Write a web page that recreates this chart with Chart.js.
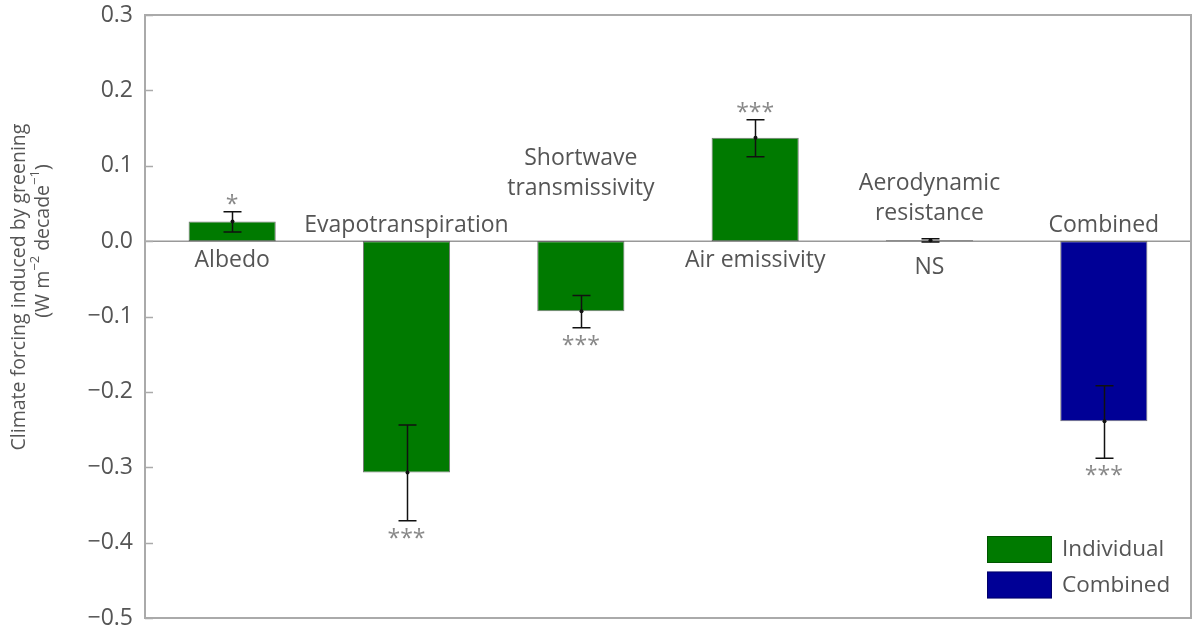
<!DOCTYPE html>
<html><head><meta charset="utf-8">
<script src="https://cdn.jsdelivr.net/npm/chart.js@4/dist/chart.umd.min.js"></script>
<style>html,body{margin:0;padding:0;background:#fff}#wrap{width:1192px;height:642px}</style>
</head><body><div id="wrap"><canvas id="c" width="1192" height="642"></canvas></div>
<script>
// ---- data ----
const categories = ['Albedo', 'Evapotranspiration', ['Shortwave', 'transmissivity'], 'Air emissivity', ['Aerodynamic', 'resistance'], 'Combined'];
const individualValues = [0.026, -0.307, -0.093, 0.137, 0.001, null];
const combinedValues = [null, null, null, null, null, -0.239];
const errLow = [0.012, -0.371, -0.115, 0.112, -0.001, -0.288];
const errHigh = [0.039, -0.244, -0.072, 0.161, 0.003, -0.192];
const significance = ['*', '***', '***', '***', 'NS', '***'];
const yTicks = [-0.5, -0.4, -0.3, -0.2, -0.1, 0.0, 0.1, 0.2, 0.3];
const seriesNames = ['Individual', 'Combined'];
const yTitleLine1 = 'Climate forcing induced by greening';

// ---- style ----
const FONT = '"Open Sans", "Noto Sans", sans-serif';
const TEXT = '#555555';
const GREEN = '#007a00';
const BLUE = '#000096';
const FRAME = '#aaaaaa';
const labelExtraLift = [0, 0, 37, 0, 12, 0];

const annot = {
  id: 'annot',
  beforeDatasetsDraw(chart) {
    const ctx = chart.ctx, a = chart.chartArea, y = chart.scales.y;
    const y0 = y.getPixelForValue(0);
    ctx.save();
    ctx.strokeStyle = '#999999';
    ctx.lineWidth = 1.5;
    ctx.beginPath(); ctx.moveTo(a.left, y0); ctx.lineTo(a.right, y0); ctx.stroke();
    ctx.restore();
  },
  afterDatasetsDraw(chart) {
    const ctx = chart.ctx, a = chart.chartArea, x = chart.scales.x, y = chart.scales.y;
    const y0 = y.getPixelForValue(0);
    ctx.save();
    // frame
    ctx.strokeStyle = FRAME; ctx.lineWidth = 2;
    ctx.strokeRect(a.left, a.top, a.right - a.left, a.bottom - a.top);
    // inward ticks
    ctx.lineWidth = 1.5;
    yTicks.forEach(v => {
      const py = Math.round(y.getPixelForValue(v)) + 0.5;
      ctx.beginPath(); ctx.moveTo(a.left, py); ctx.lineTo(a.left + 8, py); ctx.stroke();
    });
    // error bars
    ctx.strokeStyle = '#111111'; ctx.lineWidth = 1.5;
    categories.forEach((c, i) => {
      const cx = Math.round(x.getPixelForValue(i)) + 0.5;
      const lo = y.getPixelForValue(errLow[i]), hi = y.getPixelForValue(errHigh[i]);
      ctx.beginPath();
      ctx.moveTo(cx, lo); ctx.lineTo(cx, hi);
      ctx.moveTo(cx - 9, lo); ctx.lineTo(cx + 9, lo);
      ctx.moveTo(cx - 9, hi); ctx.lineTo(cx + 9, hi);
      ctx.stroke();
      const v = individualValues[i] != null ? individualValues[i] : combinedValues[i];
      ctx.fillStyle = '#111';
      ctx.beginPath(); ctx.arc(cx, y.getPixelForValue(v), 2, 0, Math.PI * 2); ctx.fill();
    });
    // category labels
    ctx.font = '23px ' + FONT;
    ctx.fillStyle = TEXT;
    ctx.textAlign = 'center'; ctx.textBaseline = 'middle';
    categories.forEach((c, i) => {
      const lines = Array.isArray(c) ? c : [c];
      const cx = x.getPixelForValue(i);
      const v = individualValues[i] != null ? individualValues[i] : combinedValues[i];
      if (v >= 0.01) {
        lines.forEach((l, k) => ctx.fillText(l, cx, y0 + 19 + k * 30));
      } else {
        const n = lines.length;
        lines.forEach((l, k) => ctx.fillText(l, cx, y0 - 16 - labelExtraLift[i] - (n - 1 - k) * 30));
      }
    });
    // significance
    categories.forEach((c, i) => {
      const cx = x.getPixelForValue(i);
      const v = individualValues[i] != null ? individualValues[i] : combinedValues[i];
      const s = significance[i];
      if (s === 'NS') {
        ctx.fillStyle = TEXT; ctx.font = '23px ' + FONT; ctx.textBaseline = 'middle';
        ctx.fillText(s, cx, y0 + 26);
        return;
      }
      ctx.fillStyle = '#888888'; ctx.font = '23px ' + FONT;
      ctx.textBaseline = 'alphabetic';
      if (v >= 0) {
        ctx.fillText(s, cx, y.getPixelForValue(errHigh[i]) + 0);
      } else {
        ctx.fillText(s, cx, y.getPixelForValue(errLow[i]) + 25);
      }
      ctx.textBaseline = 'middle';
    });
    // legend
    const ds = chart.data.datasets;
    ds.forEach((d, k) => {
      const bx = a.right - 204, by = a.bottom - 82 + k * 35.5;
      ctx.fillStyle = d.backgroundColor;
      ctx.fillRect(bx, by, 65, 27);
      ctx.strokeStyle = 'rgba(0,0,0,0.3)'; ctx.lineWidth = 1;
      ctx.strokeRect(bx + 0.5, by + 0.5, 64, 26);
      ctx.fillStyle = TEXT; ctx.font = '22.5px ' + FONT;
      ctx.textAlign = 'left'; ctx.textBaseline = 'middle';
      ctx.fillText(d.label, bx + 75, by + 14);
    });
    // y title
    ctx.fillStyle = TEXT;
    ctx.save();
    ctx.translate(19, 287); ctx.rotate(-Math.PI / 2);
    ctx.font = '19.5px ' + FONT; ctx.textAlign = 'center'; ctx.textBaseline = 'middle';
    ctx.fillText(yTitleLine1, 0, 0);
    ctx.restore();
    ctx.save();
    ctx.translate(43, 241); ctx.rotate(-Math.PI / 2);
    const segs = [['(W m', 19.5, 0], ['\u22122', 13, -8], [' decade', 19.5, 0], ['\u22121', 13, -8], [')', 19.5, 0]];
    let total = 0;
    segs.forEach(s => { ctx.font = s[1] + 'px ' + FONT; total += ctx.measureText(s[0]).width; });
    let px = -total / 2;
    ctx.textAlign = 'left'; ctx.textBaseline = 'middle';
    segs.forEach(s => { ctx.font = s[1] + 'px ' + FONT; ctx.fillText(s[0], px, s[2]); px += ctx.measureText(s[0]).width; });
    ctx.restore();
    ctx.restore();
  }
};

new Chart(document.getElementById('c'), {
  type: 'bar',
  data: {
    labels: categories.map((c, i) => i),
    datasets: [
      { label: seriesNames[0], data: individualValues, backgroundColor: GREEN, borderColor: 'rgba(0,0,0,0.55)', borderWidth: 1, borderSkipped: false },
      { label: seriesNames[1], data: combinedValues, backgroundColor: BLUE, borderColor: 'rgba(0,0,0,0.55)', borderWidth: 1, borderSkipped: false }
    ]
  },
  options: {
    responsive: false,
    animation: false,
    devicePixelRatio: 1,
    layout: { padding: { top: 15, bottom: 24, right: 1, left: 0 } },
    datasets: { bar: { grouped: false, categoryPercentage: 1, barPercentage: 0.5 } },
    plugins: { legend: { display: false }, tooltip: { enabled: false } },
    scales: {
      x: { display: false },
      y: {
        min: -0.5, max: 0.3,
        afterFit(s) { s.width = 145; s.paddingTop = 0; s.paddingBottom = 0; },
        afterBuildTicks(s) { s.ticks = yTicks.map(v => ({ value: v })); },
        grid: { display: false, drawTicks: false },
        border: { display: false },
        ticks: {
          padding: 12,
          color: TEXT,
          font: { family: FONT, size: 23 },
          callback: v => (v < -1e-9 ? '\u2212' : '') + Math.abs(v).toFixed(1)
        }
      }
    }
  },
  plugins: [annot]
});
</script></body></html>
